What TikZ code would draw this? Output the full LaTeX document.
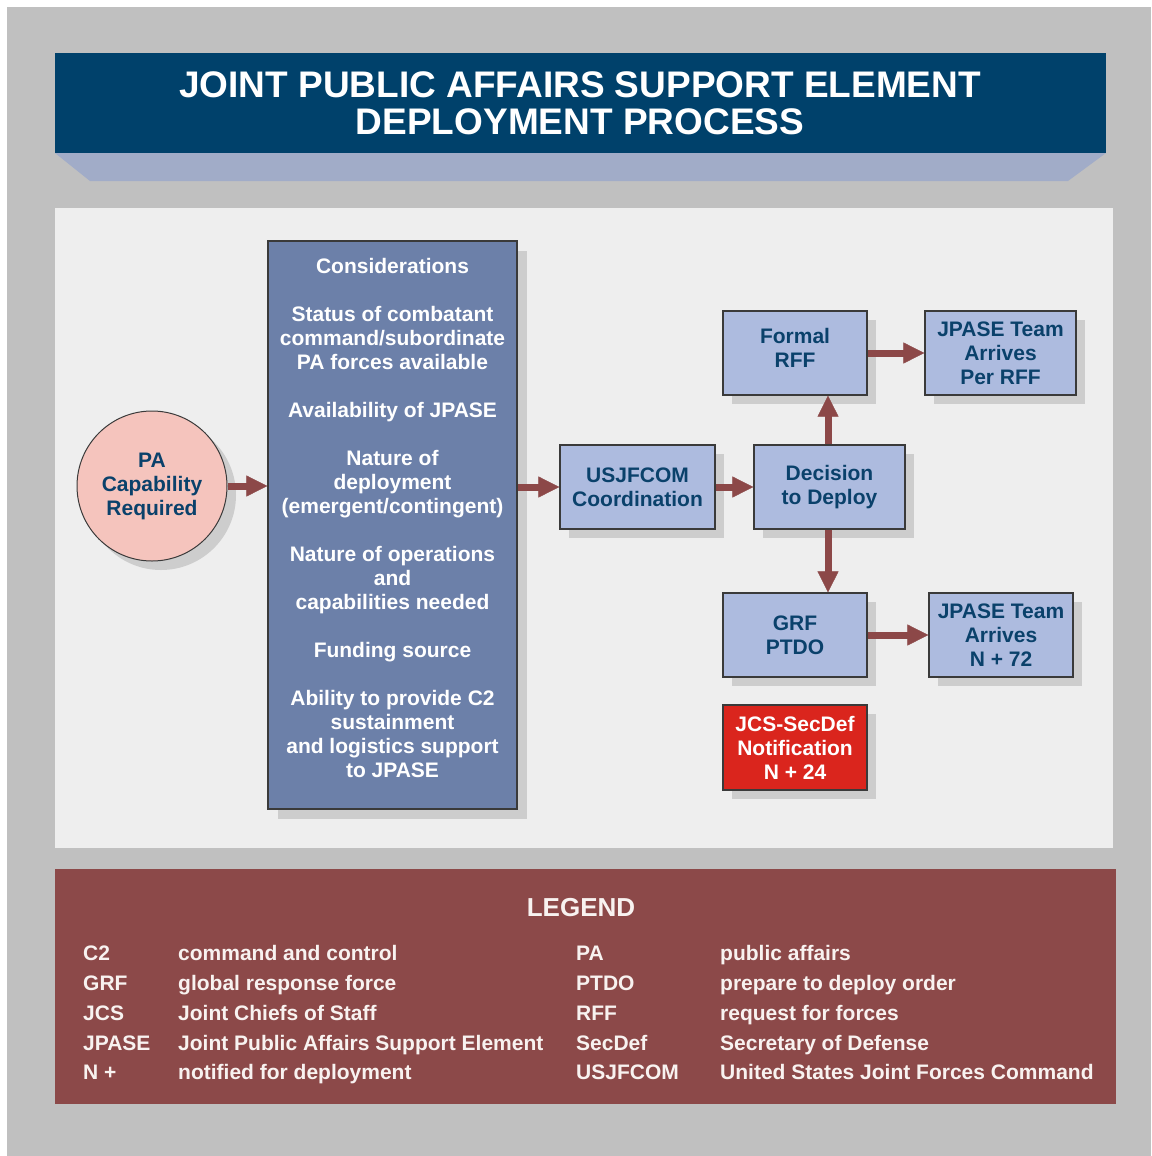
\documentclass[tikz,border=0pt]{standalone}
\usepackage{fontspec}
\setmainfont{Liberation Sans}
\usetikzlibrary{arrows.meta,shadows}

\definecolor{bggray}{HTML}{C0C0C0}
\definecolor{titleblue}{HTML}{00416B}
\definecolor{titlefoot}{HTML}{A1ACC8}
\definecolor{panelgray}{HTML}{EEEEEE}
\definecolor{legendred}{HTML}{8C4949}
\definecolor{boxblue}{HTML}{ADBBDF}
\definecolor{considblue}{HTML}{6C80A9}
\definecolor{circpink}{HTML}{F5C4BD}
\definecolor{alertred}{HTML}{DA251D}
\definecolor{shadowgray}{HTML}{CDCDCD}
\definecolor{textblue}{HTML}{0A416B}
\definecolor{boxline}{HTML}{3A3A3A}
\definecolor{arrowred}{HTML}{8C4848}
\definecolor{legwhite}{HTML}{F8F2F0}

\begin{document}
\begin{tikzpicture}[x=1pt,y=-1pt]
\tikzstyle{every node}=[font=\bfseries\fontsize{21}{24}\selectfont, align=center, inner sep=0pt]
\tikzstyle{shade box}=[drop shadow={shadow xshift=9pt, shadow yshift=-9pt, fill=shadowgray, opacity=1}]
\tikzstyle{procbox}=[rectangle, draw=boxline, line width=1.2pt, fill=boxblue, text=textblue, minimum width=144pt, minimum height=84pt, shade box]
\tikzstyle{flowarrow}=[draw=arrowred, line width=7pt, -{Triangle[length=21pt,width=21pt,line width=0.5pt]}]
\tikzstyle{legtext}=[anchor=base west, text=legwhite]

\useasboundingbox (0,0) rectangle (1151,1156);
\fill[white] (0,0) rectangle (1151,1156);
\fill[bggray] (7,7) rectangle (1151,1156);

% title banner
\fill[titlefoot] (55,153) -- (1106,153) -- (1068,181) -- (90,181) -- cycle;
\fill[titleblue] (55,53) rectangle (1106,153);
\node[text=white, font=\bfseries\fontsize{37}{37}\selectfont] (title) at (580,103.5)
  {JOINT PUBLIC AFFAIRS SUPPORT ELEMENT\\DEPLOYMENT PROCESS};

% process panel
\fill[panelgray] (55,208) rectangle (1113,848);

\node[circle, draw=boxline, line width=1pt, fill=circpink, text=textblue, minimum size=150pt,
  drop shadow={shadow xshift=9pt, shadow yshift=-9pt, fill=shadowgray, opacity=1}] (circ) at (152,486)
  {PA\\Capability\\Required};

\node[rectangle, draw=boxline, line width=1.2pt, fill=considblue, minimum width=249pt, minimum height=568pt,
  drop shadow={shadow xshift=10pt, shadow yshift=-10pt, fill=shadowgray, opacity=1}] (consid) at (392.5,525) {};
\node[text=white] (considtxt) at (392.5,517.5)
  {Considerations\\[24pt]
   Status of combatant\\command/subordinate\\PA forces available\\[24pt]
   Availability of JPASE\\[24pt]
   Nature of\\deployment\\(emergent/contingent)\\[24pt]
   Nature of operations\\and\\capabilities needed\\[24pt]
   Funding source\\[24pt]
   Ability to provide C2\\sustainment\\and logistics support\\to JPASE};

\node[procbox, minimum width=155pt] (usj) at (637.5,487) {USJFCOM\\Coordination};
\node[procbox, minimum width=151pt] (dec) at (829.5,487) {Decision\\to Deploy};
\node[procbox] (formal) at (795,353) {Formal\\RFF\\[-14pt]};
\node[procbox, minimum width=151pt] (perrff) at (1000.5,353) {JPASE Team\\Arrives\\Per RFF};
\node[procbox] (grf) at (795,635) {GRF\\PTDO};
\node[procbox] (n72) at (1001,635) {JPASE Team\\Arrives\\N + 72};
\node[procbox, fill=alertred, text=white, minimum height=85pt] (jcs) at (795,747.5)
  {JCS-SecDef\\Notification\\N + 24};

\draw[flowarrow] (circ.east) -- (circ.east -| consid.west);
\draw[flowarrow] (usj.west -| consid.east) -- (usj.west);
\draw[flowarrow] (usj.east) -- (dec.west);
\draw[flowarrow] ([xshift=-1.5pt]dec.north) -- ([xshift=-1.5pt]dec.north |- formal.south);
\draw[flowarrow] (formal.east) -- (perrff.west);
\draw[flowarrow] ([xshift=-1.5pt]dec.south) -- ([xshift=-1.5pt]dec.south |- grf.north);
\draw[flowarrow] (grf.east) -- (n72.west);

% legend
\fill[legendred] (55,869) rectangle (1116,1104);
\node[text=legwhite, font=\bfseries\fontsize{26}{28}\selectfont] (legtitle) at (581,908) {LEGEND};

\node[legtext] (abC) at (83,960) {C2};
\node[legtext] (dfC) at (178,960) {command and control};
\node[legtext] (abG) at (83,990) {GRF};
\node[legtext] (dfG) at (178,990) {global response force};
\node[legtext] (abJ) at (83,1020) {JCS};
\node[legtext] (dfJ) at (178,1020) {Joint Chiefs of Staff};
\node[legtext] (abJP) at (83,1050) {JPASE};
\node[legtext] (dfJP) at (178,1050) {Joint Public Affairs Support Element};
\node[legtext] (abN) at (83,1079) {N +};
\node[legtext] (dfN) at (178,1079) {notified for deployment};

\node[legtext] (abP) at (576,960) {PA};
\node[legtext] (dfP) at (720,960) {public affairs};
\node[legtext] (abPT) at (576,990) {PTDO};
\node[legtext] (dfPT) at (720,990) {prepare to deploy order};
\node[legtext] (abR) at (576,1020) {RFF};
\node[legtext] (dfR) at (720,1020) {request for forces};
\node[legtext] (abS) at (576,1050) {SecDef};
\node[legtext] (dfS) at (720,1050) {Secretary of Defense};
\node[legtext] (abU) at (576,1079) {USJFCOM};
\node[legtext] (dfU) at (720,1079) {United States Joint Forces Command};
\end{tikzpicture}
\end{document}
